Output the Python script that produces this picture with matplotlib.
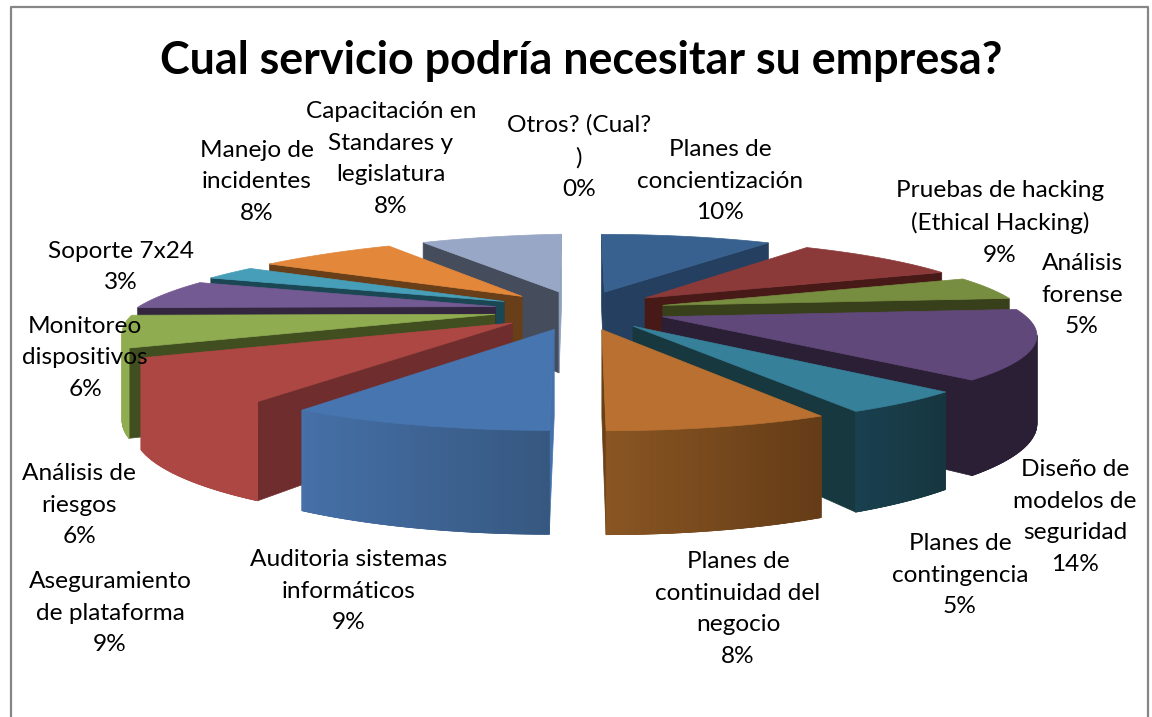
import numpy as np
import matplotlib
matplotlib.use('Agg')
import matplotlib.pyplot as plt
from matplotlib.patches import Polygon
from matplotlib.colors import to_rgb

plt.rcParams['font.family'] = ['Lato', 'DejaVu Sans']

title = 'Cual servicio podría necesitar su empresa?'

services = ['Planes de\nconcientización', 'Pruebas de hacking\n(Ethical Hacking)', 'Análisis\nforense',
            'Diseño de\nmodelos de\nseguridad', 'Planes de\ncontingencia', 'Planes de\ncontinuidad del\nnegocio',
            'Auditoria sistemas\ninformáticos', 'Aseguramiento\nde plataforma', 'Análisis de\nriesgos',
            'Monitoreo\ndispositivos', 'Soporte 7x24', 'Manejo de\nincidentes',
            'Capacitación en\nStandares y\nlegislatura', 'Otros? (Cual?\n)']
# unrounded shares
shares = [9.45, 9.2, 4.8, 14.1, 4.6, 7.85, 9.3, 9.0, 6.5, 6.1, 3.0, 8.0, 8.1, 0.0]
percent_labels = ['10%', '9%', '5%', '14%', '5%', '8%', '9%', '9%', '6%', '6%', '3%', '8%', '8%', '0%']

label_x = [720, 1000, 1082, 1075, 960, 738, 349, 110, 79, 85, 121, 257, 391, 579]
label_y = [181, 223, 295, 517, 575, 609, 591, 613, 505, 358, 267, 182, 159, 157]

top_colors = ['#38618F', '#8C3A39', '#778D3F', '#61487A', '#37809A', '#B97030',
              '#4775B0', '#AD4744', '#8FAC50', '#745A92', '#469EB8', '#E3873B', '#98A7C5', '#98A7C5']
inner_colors = ['#243F5F', '#471A18', '#37401B', '#2A1F35', '#17383F', '#643C17',
                '#4572AC', '#6F2E2D', '#414E20', '#33263F', '#1B4754', '#683F18', '#454D5C', '#454D5C']
end_colors = ['#243F5F', '#471A18', '#37401B', '#2A1F35', '#17383F', '#6B4015',
              '#4572AC', '#6F2E2D', '#414E20', '#33263F', '#1B4754', '#683F18', '#8E9FBF', '#454D5C']
wall_left = ['#243F5F', '#471A18', '#37401B', '#2A1F35', '#1A4150', '#8A5623',
             '#4670A8', '#AD4744', '#8FAC50', '#745A92', '#469EB8', '#E3873B', '#98A7C5', '#98A7C5']
wall_right = ['#243F5F', '#471A18', '#37401B', '#2A1F35', '#16363F', '#643C17',
              '#365880', '#AD4744', '#8FAC50', '#745A92', '#469EB8', '#E3873B', '#98A7C5', '#98A7C5']

# camera
cx = 580
horizon = -197
depth = 6.8
x_scale = 2444
y_scale = 3448
wall_h = 571
explode_x = 0.24
explode_y = 0.26


def project(X, Y, bottom=False):
    w = 1 / (depth + Y)
    y = horizon + y_scale * w
    if bottom:
        y = y + wall_h * w
    return cx + x_scale * X * w, y


def rim(ang):
    s, c = np.sin(ang), np.cos(ang)
    r = 1 - 0.055 * c
    # back left quarter sits a bit tighter in the original
    if s < 0 and c > 0:
        r -= 0.05 * (-np.sin(2 * ang))
    return r * s, r * c


def area(pts):
    a = 0
    for i in range(len(pts)):
        x1, y1 = pts[i]
        x2, y2 = pts[(i + 1) % len(pts)]
        a += x1 * y2 - x2 * y1
    return a / 2


def face(ax, pts, color):
    ax.add_patch(Polygon(pts, closed=True, facecolor=color, edgecolor=color, lw=0.5))


def draw_slice(ax, i, start, end):
    mid = (start + end) / 2
    ox = explode_x * np.sin(mid)
    oy = explode_y * np.cos(mid)
    angs = np.linspace(start, end, 60)
    outer = [(rim(a)[0] + ox, rim(a)[1] + oy) for a in angs]

    apex_t = project(ox, oy)
    apex_b = project(ox, oy, True)
    tops = [project(X, Y) for X, Y in outer]
    bots = [project(X, Y, True) for X, Y in outer]

    q = [apex_t, tops[0], bots[0], apex_b]
    if area(q) < 0:
        face(ax, q, inner_colors[i])
    q = [tops[-1], apex_t, apex_b, bots[-1]]
    if area(q) < 0:
        face(ax, q, end_colors[i])

    xs = [p[0] for p in tops]
    c1 = np.array(to_rgb(wall_left[i]))
    c2 = np.array(to_rgb(wall_right[i]))
    visible = [k for k in range(len(tops) - 1)
               if area([tops[k], tops[k + 1], bots[k + 1], bots[k]]) < 0]
    if visible:
        # solid wall first so the gradient strips leave no seams
        a, b = visible[0], visible[-1] + 1
        face(ax, tops[a:b + 1] + bots[a:b + 1][::-1], tuple((c1 + c2) / 2))
    for k in visible:
        t = (tops[k][0] - min(xs)) / max(max(xs) - min(xs), 1)
        face(ax, [tops[k], tops[k + 1], bots[k + 1], bots[k]], tuple(c1 + (c2 - c1) * t))

    face(ax, [apex_t] + tops, top_colors[i])


fig = plt.figure(figsize=(11.52, 7.17), dpi=100)
ax = fig.add_axes([0, 0, 1, 1])
ax.set_xlim(0, 1152)
ax.set_ylim(717, 0)
ax.axis('off')

# chart frame runs off the bottom of the crop
ax.plot([11, 11, 1148, 1148], [730, 7, 7, 730], color='#868686', lw=1.6)

edges = np.cumsum([0] + shares) / sum(shares) * 2 * np.pi
order = sorted(range(len(shares)), key=lambda i: -np.cos((edges[i] + edges[i + 1]) / 2))
for i in order:
    if shares[i] > 0:
        draw_slice(ax, i, edges[i], edges[i + 1])

for i in range(len(services)):
    ax.text(label_x[i], label_y[i], services[i] + '\n' + percent_labels[i], ha='center', va='center',
            fontsize=17.6, linespacing=1.63, color='black')

ax.text(581, 61, title, ha='center', va='center', fontsize=32.3, fontweight='bold', color='black')

fig.savefig('out.png', dpi=100)
